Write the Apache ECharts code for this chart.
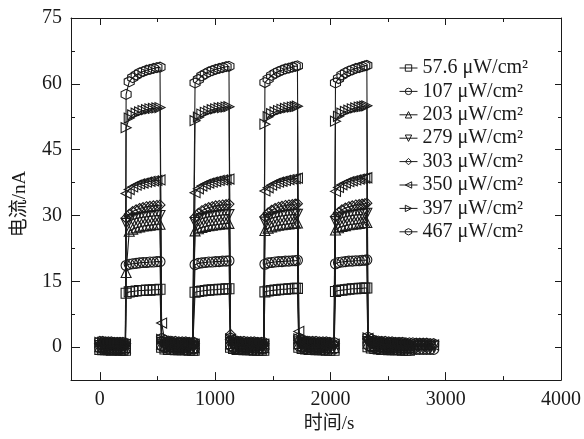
<!DOCTYPE html>
<html>
<head>
<meta charset="utf-8">
<script src="https://cdn.jsdelivr.net/npm/echarts@6.0.0/dist/echarts.min.js"></script>
<style>
  html, body { margin: 0; padding: 0; background: #fff; }
  #chart { width: 584px; height: 439px; }
</style>
</head>
<body>
<div id="chart"></div>
<script>
// 时间点 (s)
const tOff1 = [0, 25, 50, 75, 100, 125, 150, 175, 200, 222]
const tOn1 = [228, 255, 285, 315, 345, 375, 405, 435, 465, 495, 522]
const tOff2 = [536, 565, 595, 625, 655, 685, 715, 745, 775, 805, 818]
const tOn2 = [826, 855, 885, 915, 945, 975, 1005, 1035, 1065, 1095, 1120]
const tOff3 = [1134, 1160, 1190, 1220, 1250, 1280, 1310, 1340, 1370, 1400, 1422]
const tOn3 = [1432, 1460, 1490, 1520, 1550, 1580, 1610, 1640, 1670, 1695, 1714]
const tOff4 = [1726, 1755, 1785, 1815, 1845, 1875, 1905, 1935, 1965, 1995, 2032]
const tOn4 = [2044, 2070, 2100, 2130, 2160, 2190, 2220, 2250, 2275, 2298, 2316]
const tOff5 = [2326, 2355, 2385, 2415, 2445, 2475, 2505, 2535, 2565, 2595, 2625, 2655, 2685,
  2715, 2745, 2775, 2805, 2835, 2865, 2895]

// 刻度
const xTicks = [0, 1000, 2000, 3000, 4000]
const xMinor = [500, 1500, 2500, 3500]
const yTicks = [0, 15, 30, 45, 60, 75]
const yMinor = [7.5, 22.5, 37.5, 52.5, 67.5]

// 57.6 μW/cm²
const s1Off1 = [-0.5, -0.6, -0.6, -0.6, -0.7, -0.6, -0.6, -0.7, -0.7, -0.7]
const s1On1 = [12.3, 12.6, 12.7, 12.8, 12.9, 12.9, 13.0, 13.0, 13.1, 13.1, 13.2]
const s1Off2 = [0.0, -0.4, -0.5, -0.5, -0.6, -0.6, -0.6, -0.6, -0.7, -0.7, -0.7]
const s1On2 = [12.5, 12.7, 12.8, 12.9, 13.0, 13.1, 13.1, 13.2, 13.2, 13.3, 13.3]
const s1Off3 = [0.0, -0.3, -0.5, -0.5, -0.6, -0.6, -0.6, -0.7, -0.7, -0.7, -0.7]
const s1On3 = [12.6, 12.8, 12.9, 13.0, 13.1, 13.2, 13.2, 13.3, 13.3, 13.4, 13.4]
const s1Off4 = [0.0, -0.3, -0.4, -0.5, -0.5, -0.6, -0.6, -0.6, -0.7, -0.7, -0.7]
const s1On4 = [12.7, 12.9, 13.0, 13.1, 13.2, 13.3, 13.3, 13.4, 13.4, 13.5, 13.5]
const s1Off5 = [0.1, -0.2, -0.3, -0.4, -0.5, -0.5, -0.6, -0.6, -0.6, -0.6, -0.7, -0.7, -0.7]

// 107 μW/cm²
const s2Off1 = [-0.2, -0.3, -0.3, -0.3, -0.4, -0.4, -0.4, -0.4, -0.4, -0.5]
const s2On1 = [18.6, 18.9, 19.0, 19.1, 19.2, 19.3, 19.3, 19.4, 19.4, 19.5, 19.5]
const s2Off2 = [0.3, -0.1, -0.2, -0.2, -0.3, -0.3, -0.3, -0.4, -0.4, -0.4, -0.4]
const s2On2 = [18.8, 19.1, 19.2, 19.3, 19.4, 19.4, 19.5, 19.5, 19.6, 19.6, 19.7]
const s2Off3 = [0.3, -0.1, -0.2, -0.3, -0.3, -0.3, -0.4, -0.4, -0.4, -0.4, -0.4]
const s2On3 = [18.9, 19.2, 19.3, 19.4, 19.5, 19.5, 19.6, 19.6, 19.7, 19.7, 19.8]
const s2Off4 = [0.3, 0.0, -0.2, -0.2, -0.3, -0.3, -0.3, -0.4, -0.4, -0.4, -0.4]
const s2On4 = [19.0, 19.3, 19.4, 19.5, 19.6, 19.6, 19.7, 19.7, 19.8, 19.8, 19.9]
const s2Off5 = [0.5, 0.1, -0.1, -0.2, -0.2, -0.3, -0.3, -0.3, -0.4, -0.4, -0.4, -0.4, -0.4, -0.5,
  -0.5, -0.5, -0.5, -0.5, -0.5, -0.5]

// 203 μW/cm²
const s3Off1 = [0.1, 0.1, 0.0, 0.0, 0.0, -0.1, -0.1, -0.1, -0.1, -0.1]
const s3On1 = [17.0, 26.4, 26.9, 27.2, 27.4, 27.6, 27.7, 27.8, 27.9, 28.0, 28.0]
const s3Off2 = [0.7, 0.3, 0.2, 0.1, 0.1, 0.0, 0.0, 0.0, 0.0, -0.1, -0.1]
const s3On2 = [26.5, 27.0, 27.3, 27.5, 27.7, 27.8, 27.9, 28.0, 28.1, 28.2, 28.2]
const s3Off3 = [0.8, 0.3, 0.2, 0.1, 0.1, 0.0, 0.0, 0.0, -0.1, -0.1, -0.1]
const s3On3 = [26.6, 27.1, 27.4, 27.6, 27.8, 27.9, 28.0, 28.1, 28.2, 28.3, 28.3]
const s3Off4 = [0.8, 0.3, 0.2, 0.1, 0.1, 0.1, 0.0, 0.0, 0.0, -0.1, -0.1]
const s3On4 = [26.7, 27.2, 27.5, 27.7, 27.9, 28.0, 28.1, 28.2, 28.3, 28.4, 28.4]
const s3Off5 = [0.9, 0.4, 0.3, 0.2, 0.1, 0.1, 0.0, 0.0, 0.0, -0.1, -0.1, -0.1, -0.1]

// 279 μW/cm²
const s4Off1 = [0.4, 0.4, 0.3, 0.3, 0.3, 0.2, 0.2, 0.2, 0.2, 0.2]
const s4On1 = [28.2, 28.8, 29.1, 29.3, 29.5, 29.6, 29.7, 29.8, 29.9, 30.0, 30.0]
const s4Off2 = [1.1, 0.6, 0.5, 0.4, 0.4, 0.3, 0.3, 0.3, 0.3, 0.2, 0.2]
const s4On2 = [28.4, 29.0, 29.3, 29.5, 29.7, 29.8, 29.9, 30.0, 30.1, 30.2, 30.2]
const s4Off3 = [1.1, 0.6, 0.5, 0.4, 0.4, 0.3, 0.3, 0.3, 0.2, 0.2, 0.2]
const s4On3 = [28.5, 29.1, 29.4, 29.6, 29.8, 29.9, 30.0, 30.1, 30.2, 30.3, 30.3]
const s4Off4 = [1.2, 0.7, 0.5, 0.4, 0.4, 0.4, 0.3, 0.3, 0.3, 0.2, 0.2]
const s4On4 = [28.6, 29.2, 29.5, 29.7, 29.9, 30.0, 30.1, 30.2, 30.3, 30.4, 30.5]
const s4Off5 = [1.3, 0.8, 0.6, 0.5, 0.5, 0.4, 0.4, 0.4, 0.3, 0.3, 0.3, 0.3, 0.2, 0.2, 0.2,
  0.2, 0.2, 0.2, 0.1, 0.1]

// 303 μW/cm²
const s5Off1 = [0.7, 0.7, 0.6, 0.6, 0.6, 0.5, 0.5, 0.5, 0.5, 0.5]
const s5On1 = [29.4, 30.3, 30.9, 31.3, 31.6, 31.8, 32.0, 32.1, 32.2, 32.3, 32.4]
const s5Off2 = [1.4, 0.9, 0.8, 0.7, 0.7, 0.6, 0.6, 0.6, 0.6, 0.5, 0.5]
const s5On2 = [29.6, 30.5, 31.1, 31.5, 31.8, 32.0, 32.2, 32.3, 32.4, 32.5, 32.6]
const s5Off3 = [2.9, 1.0, 0.8, 0.7, 0.7, 0.6, 0.6, 0.6, 0.5, 0.5, 0.5]
const s5On3 = [29.7, 30.6, 31.2, 31.6, 31.9, 32.1, 32.3, 32.4, 32.5, 32.6, 32.7]
const s5Off4 = [1.5, 1.0, 0.8, 0.7, 0.7, 0.7, 0.6, 0.6, 0.6, 0.5, 0.5]
const s5On4 = [29.8, 30.7, 31.3, 31.7, 32.0, 32.2, 32.4, 32.5, 32.6, 32.7, 32.8]
const s5Off5 = [1.7, 1.1, 0.9, 0.8, 0.7, 0.7, 0.6, 0.6, 0.6, 0.5, 0.5, 0.5, 0.5]

// 350 μW/cm²
const s6Off1 = [0.9, 0.9, 0.8, 0.8, 0.8, 0.7, 0.7, 0.7, 0.7, 0.7]
const s6On1 = [35.0, 35.9, 36.5, 36.9, 37.2, 37.4, 37.6, 37.8, 37.9, 38.0, 38.1]
const s6Off2 = [5.5, 1.3, 1.0, 0.9, 0.9, 0.8, 0.8, 0.8, 0.8, 0.7, 0.7]
const s6On2 = [35.2, 36.1, 36.7, 37.1, 37.4, 37.6, 37.8, 38.0, 38.1, 38.2, 38.3]
const s6Off3 = [1.8, 1.2, 1.0, 0.9, 0.9, 0.8, 0.8, 0.8, 0.7, 0.7, 0.7]
const s6On3 = [35.6, 36.3, 36.9, 37.3, 37.6, 37.8, 38.0, 38.2, 38.3, 38.4, 38.5]
const s6Off4 = [3.6, 1.3, 1.0, 0.9, 0.9, 0.9, 0.8, 0.8, 0.8, 0.7, 0.7]
const s6On4 = [35.5, 36.4, 37.0, 37.4, 37.7, 37.9, 38.1, 38.3, 38.4, 38.5, 38.6]
const s6Off5 = [2.0, 1.4, 1.1, 1.0, 0.9, 0.9, 0.8, 0.8, 0.8, 0.7, 0.7, 0.7, 0.7, 0.6, 0.6,
  0.6, 0.6, 0.5, 0.5, 0.5]

// 397 μW/cm²
const s7Off1 = [1.1, 1.1, 1.0, 1.0, 1.0, 0.9, 0.9, 0.9, 0.9, 0.9]
const s7On1 = [50.0, 52.2, 52.9, 53.3, 53.6, 53.9, 54.1, 54.3, 54.4, 54.5, 54.6]
const s7Off2 = [1.8, 1.4, 1.2, 1.1, 1.1, 1.0, 1.0, 1.0, 0.9, 0.9, 0.9]
const s7On2 = [51.6, 52.4, 53.1, 53.5, 53.8, 54.1, 54.3, 54.5, 54.6, 54.7, 54.8]
const s7Off3 = [1.9, 1.4, 1.2, 1.1, 1.1, 1.0, 1.0, 1.0, 0.9, 0.9, 0.9]
const s7On3 = [50.8, 52.5, 53.2, 53.6, 53.9, 54.2, 54.4, 54.6, 54.7, 54.8, 54.9]
const s7Off4 = [1.9, 1.5, 1.2, 1.1, 1.1, 1.1, 1.0, 1.0, 1.0, 0.9, 0.9]
const s7On4 = [51.5, 52.6, 53.3, 53.7, 54.0, 54.3, 54.5, 54.7, 54.8, 54.9, 55.0]
const s7Off5 = [2.1, 1.6, 1.3, 1.2, 1.1, 1.1, 1.0, 1.0, 1.0, 0.9, 0.9, 0.9, 0.9]

// 467 μW/cm²
const s8Off1 = [1.3, 1.3, 1.2, 1.2, 1.2, 1.1, 1.1, 1.1, 1.1, 1.0]
const s8On1 = [57.6, 60.5, 61.4, 62.0, 62.5, 62.8, 63.1, 63.3, 63.5, 63.7, 63.8]
const s8Off2 = [2.0, 1.6, 1.4, 1.3, 1.3, 1.2, 1.2, 1.2, 1.1, 1.1, 1.1]
const s8On2 = [60.2, 61.0, 61.8, 62.3, 62.7, 63.0, 63.3, 63.5, 63.7, 63.9, 64.0]
const s8Off3 = [2.1, 1.6, 1.4, 1.3, 1.3, 1.2, 1.2, 1.2, 1.1, 1.1, 1.1]
const s8On3 = [60.3, 61.1, 61.9, 62.4, 62.8, 63.1, 63.4, 63.6, 63.8, 64.0, 64.1]
const s8Off4 = [2.1, 1.7, 1.4, 1.3, 1.3, 1.3, 1.2, 1.2, 1.2, 1.1, 1.1]
const s8On4 = [60.2, 61.2, 62.0, 62.5, 62.9, 63.2, 63.5, 63.7, 63.9, 64.1, 64.2]
const s8Off5 = [2.3, 1.8, 1.5, 1.4, 1.3, 1.3, 1.2, 1.2, 1.1, 1.1, 1.1, 1.0, 1.0, 1.0, 0.9,
  0.9, 0.9, 0.9, 0.8, 0.8]

const names = [ "57.6 μW/cm²", "107 μW/cm²", "203 μW/cm²", "279 μW/cm²",
  "303 μW/cm²", "350 μW/cm²", "397 μW/cm²", "467 μW/cm²" ]

const hexagon = "path://M-0.5,-0.87L0.5,-0.87L1,0L0.5,0.87L-0.5,0.87L-1,0Z"
const diamond = "path://M0,-1L1,0L0,1L-1,0Z"
const symbols = [
  { symbol: "rect", rotate: 0 },
  { symbol: "circle", rotate: 0 },
  { symbol: "triangle", rotate: 0 },
  { symbol: "triangle", rotate: 180 },
  { symbol: diamond, rotate: 0 },
  { symbol: "triangle", rotate: 90 },
  { symbol: "triangle", rotate: -90 },
  { symbol: hexagon, rotate: 90 }
]

const segs = [
  [ s1Off1, s1On1, s1Off2, s1On2, s1Off3, s1On3, s1Off4, s1On4, s1Off5 ],
  [ s2Off1, s2On1, s2Off2, s2On2, s2Off3, s2On3, s2Off4, s2On4, s2Off5 ],
  [ s3Off1, s3On1, s3Off2, s3On2, s3Off3, s3On3, s3Off4, s3On4, s3Off5 ],
  [ s4Off1, s4On1, s4Off2, s4On2, s4Off3, s4On3, s4Off4, s4On4, s4Off5 ],
  [ s5Off1, s5On1, s5Off2, s5On2, s5Off3, s5On3, s5Off4, s5On4, s5Off5 ],
  [ s6Off1, s6On1, s6Off2, s6On2, s6Off3, s6On3, s6Off4, s6On4, s6Off5 ],
  [ s7Off1, s7On1, s7Off2, s7On2, s7Off3, s7On3, s7Off4, s7On4, s7Off5 ],
  [ s8Off1, s8On1, s8Off2, s8On2, s8Off3, s8On3, s8Off4, s8On4, s8Off5 ]
]
const times = [ tOff1, tOn1, tOff2, tOn2, tOff3, tOn3, tOff4, tOn4, tOff5 ]

const chart = echarts.init(document.getElementById("chart"), null, { renderer: "canvas" })

const ink = "#1a1a1a"
const serif = "\"Liberation Serif\", \"Noto Sans CJK SC\", serif"
const labelStyle = { fontFamily: serif, fontSize: 20, color: ink, formatter: v => String(v) }
const line = { lineStyle: { color: ink, width: 1 } }

const xAx = (position, ticks, len, showLine, showLabel) => ({
  type: "value",
  position,
  min: -250,
  max: 4000,
  axisLine: { show: showLine, onZero: false, ...line },
  axisTick: { show: true, inside: true, length: len, customValues: ticks, ...line },
  axisLabel: showLabel ? { customValues: ticks, margin: 10, ...labelStyle } : { show: false },
  splitLine: { show: false }
})
const yAx = (position, ticks, len, showLine, showLabel) => ({
  type: "value",
  position,
  min: -7.5,
  max: 75,
  axisLine: { show: showLine, onZero: false, ...line },
  axisTick: { show: true, inside: true, length: len, customValues: ticks, ...line },
  axisLabel: showLabel ? { customValues: ticks, margin: 9, ...labelStyle } : { show: false },
  splitLine: { show: false }
})

const xMain = xAx("bottom", xTicks, 8, true, true)
xMain.name = "时间/s"
xMain.nameLocation = "middle"
xMain.nameGap = 29
xMain.nameTextStyle = { fontFamily: serif, fontSize: 19, color: ink, padding: [ 0, 0, 0, 26 ] }
const yMain = yAx("left", yTicks, 9, true, true)
yMain.name = "电流/nA"
yMain.nameLocation = "middle"
yMain.nameGap = 41
yMain.nameTextStyle = { fontFamily: serif, fontSize: 19, color: ink, padding: [ 0, 10, 0, 0 ] }

const option = {
  animation: false,
  backgroundColor: "#fff",
  grid: { left: 71, right: 17, top: 18, bottom: 53 },
  legend: {
    orient: "vertical",
    left: 394,
    top: 53,
    itemWidth: 18,
    itemHeight: 8,
    itemGap: 3.4,
    itemStyle: { color: "transparent", borderColor: ink, borderWidth: 1 },
    lineStyle: { color: ink, width: 1 },
    textStyle: { fontFamily: serif, fontSize: 20, lineHeight: 20, color: ink },
    data: names
  },
  xAxis: [
    xMain,
    xAx("bottom", xMinor, 4, false, false),
    xAx("top", xTicks, 7, true, false),
    xAx("top", xMinor, 4, false, false)
  ],
  yAxis: [
    yMain,
    yAx("left", yMinor, 4, false, false),
    yAx("right", yTicks, 6, true, false),
    yAx("right", yMinor, 3, false, false)
  ],
  series: names.map((name, k) => ({
    name,
    type: "line",
    xAxisIndex: 0,
    yAxisIndex: 0,
    symbol: symbols[k].symbol,
    symbolRotate: symbols[k].rotate,
    symbolSize: 10,
    lineStyle: { color: ink, width: 1.1 },
    itemStyle: { color: "rgba(0,0,0,0)", borderColor: ink, borderWidth: 1.1 },
    data: segs[k].flatMap((vals, j) => vals.map((v, i) => [ times[j][i], v ]))
  }))
}
chart.setOption(option)
</script>
</body>
</html>
